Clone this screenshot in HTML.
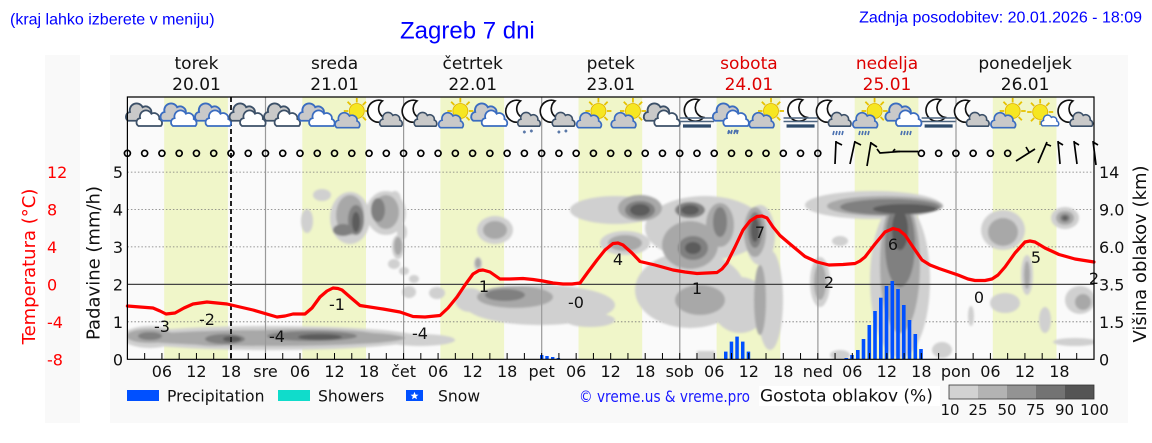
<!DOCTYPE html>
<html><head><meta charset="utf-8"><style>
html,body{margin:0;padding:0;background:#fff;width:1152px;height:443px;overflow:hidden}
svg{display:block}
.t{font-family:"DejaVu Sans",sans-serif}
.h{font-family:"Liberation Sans",Arial,sans-serif}
</style></head><body>
<svg width="1152" height="443" xmlns="http://www.w3.org/2000/svg" xmlns:xlink="http://www.w3.org/1999/xlink">
<defs>
<clipPath id="pc"><rect x="127.4" y="160" width="966.6" height="199.3"/></clipPath>
<filter id="bl" x="-10%" y="-10%" width="120%" height="120%"><feGaussianBlur stdDeviation="1.0"/></filter>
<path id="cl" d="M-13,8 A5,5 0 0 1 -11,-1 A7,7 0 0 1 2,-6 A6,6 0 0 1 11,0 A5,5 0 0 1 13,8 Z"/>
<g id="sun"><g stroke="#e6c200" stroke-width="1.8"><line x1="8.5" y1="0" x2="13" y2="0"/><line x1="6" y1="6" x2="9.2" y2="9.2"/><line x1="0" y1="8.5" x2="0" y2="13"/><line x1="-6" y1="6" x2="-9.2" y2="9.2"/><line x1="-8.5" y1="0" x2="-13" y2="0"/><line x1="-6" y1="-6" x2="-9.2" y2="-9.2"/><line x1="0" y1="-8.5" x2="0" y2="-13"/><line x1="6" y1="-6" x2="9.2" y2="-9.2"/></g><circle r="7.5" fill="#f6e622" stroke="#e0b000" stroke-width="0.8"/></g>
<path id="moon" d="M2,-11 A10,10 0 1 0 6,5 A9,9 0 0 1 2,-11 Z" fill="#fff" stroke="#111" stroke-width="1.5"/>
<g id="cg"><use xlink:href="#cl" transform="translate(-4,-2) scale(0.97)" fill="#c9c9c9" stroke="#3c5068" stroke-width="1.9"/><use xlink:href="#cl" transform="translate(5,4) scale(0.87)" fill="#fff" stroke="#3c5068" stroke-width="2"/></g>
<g id="cb"><use xlink:href="#cl" transform="translate(-4,-2) scale(0.97)" fill="#c9c9c9" stroke="#3a6cc0" stroke-width="1.9"/><use xlink:href="#cl" transform="translate(5,4) scale(0.87)" fill="#fff" stroke="#3a6cc0" stroke-width="2"/></g>
<g id="sc"><use xlink:href="#sun" transform="translate(5,-4)"/><use xlink:href="#cl" transform="translate(-4,6) scale(0.84)" fill="#c9c9c9" stroke="#3a6cc0" stroke-width="2"/></g>
<g id="sc2"><use xlink:href="#sun" transform="translate(-2,-3)"/><use xlink:href="#cl" transform="translate(8,6) scale(0.6)" fill="#fff" stroke="#3a6cc0" stroke-width="2.4"/></g>
<g id="mc"><use xlink:href="#moon" transform="translate(-6,-2) scale(1.1)"/><use xlink:href="#cl" transform="translate(5,5) scale(0.77)" fill="#c9c9c9" stroke="#3c5068" stroke-width="2.1"/></g>
<g id="mf"><use xlink:href="#moon" transform="translate(0,-3) scale(1.1)"/><line x1="-17" y1="3" x2="17" y2="3" stroke="#4d6580" stroke-width="1.5"/><line x1="-17" y1="6.5" x2="17" y2="6.5" stroke="#4d6580" stroke-width="1.5"/><line x1="-14" y1="11" x2="14" y2="11" stroke="#2d4a6b" stroke-width="3.2"/></g>
<g id="sn" stroke="#5a78a8" stroke-width="1"><path d="M-1.5,17 h3 M0,15.5 v3 M-1,16 l2,2 M1,16 l-2,2"/><path d="M5.5,16 h3 M7,14.5 v3 M6,15 l2,2 M8,15 l-2,2"/></g>
<g id="rn" stroke="#4a70b0" stroke-width="1.6"><path d="M-4,16 l-1,4 M-1,16 l-1,4 M2,16 l-1,4 M5,16 l-1,4"/></g>
</defs>

<!-- header -->
<text class="h" x="10" y="24.4" font-size="16" fill="#0000ff">(kraj lahko izberete v meniju)</text>
<text class="h" x="400" y="38.5" font-size="24" fill="#0000ff">Zagreb 7 dni</text>
<text class="h" x="1142" y="22.5" font-size="16" fill="#0000ff" text-anchor="end">Zadnja posodobitev: 20.01.2026 - 18:09</text>

<!-- backgrounds -->
<rect x="110" y="55" width="1018" height="368" fill="#f9f9f9"/>
<rect x="45" y="55" width="35" height="368" fill="#f9f9f9"/>
<rect x="127.4" y="97" width="966.6" height="262.3" fill="#fafafa"/>
<g fill="#f0f6c9">
<rect x="164.2" y="97" width="63.7" height="262.3"/>
<rect x="302.3" y="97" width="63.7" height="262.3"/>
<rect x="440.4" y="97" width="63.7" height="262.3"/>
<rect x="578.5" y="97" width="63.7" height="262.3"/>
<rect x="716.6" y="97" width="63.7" height="262.3"/>
<rect x="854.7" y="97" width="63.7" height="262.3"/>
<rect x="992.8" y="97" width="63.7" height="262.3"/>
</g>

<!-- day headers -->
<g class="t" font-size="17" text-anchor="middle" fill="#111">
<text x="196.5" y="69">torek</text><text x="196.5" y="90">20.01</text>
<text x="334.6" y="69">sreda</text><text x="334.6" y="90">21.01</text>
<text x="472.7" y="69">četrtek</text><text x="472.7" y="90">22.01</text>
<text x="610.8" y="69">petek</text><text x="610.8" y="90">23.01</text>
<text x="748.9" y="69" fill="#dd0000">sobota</text><text x="748.9" y="90" fill="#dd0000">24.01</text>
<text x="887.0" y="69" fill="#dd0000">nedelja</text><text x="887.0" y="90" fill="#dd0000">25.01</text>
<text x="1025.1" y="69">ponedeljek</text><text x="1025.1" y="90">26.01</text>
</g>

<!-- grid -->
<g stroke="#777" stroke-width="0.8" stroke-dasharray="1.5,2">
<line x1="127.4" y1="172.1" x2="1094" y2="172.1"/>
<line x1="127.4" y1="209.5" x2="1094" y2="209.5"/>
<line x1="127.4" y1="246.9" x2="1094" y2="246.9"/>
<line x1="127.4" y1="321.8" x2="1094" y2="321.8"/>
</g>

<!-- clouds -->
<g clip-path="url(#pc)"><g filter="url(#bl)">
<g fill="#d0d0d0">
<ellipse cx="270" cy="338" rx="150" ry="12"/><ellipse cx="420" cy="340" rx="35" ry="6"/><ellipse cx="150" cy="337" rx="28" ry="11"/>
<ellipse cx="322" cy="195" rx="9" ry="6"/><ellipse cx="307" cy="221" rx="6" ry="12"/><ellipse cx="350" cy="218" rx="20" ry="26"/><ellipse cx="386" cy="213" rx="20" ry="22"/>
<ellipse cx="398" cy="247" rx="6" ry="12"/><ellipse cx="394" cy="264" rx="6" ry="5"/><ellipse cx="404" cy="271" rx="5" ry="4"/><ellipse cx="414" cy="279" rx="5" ry="4"/>
<ellipse cx="409" cy="292" rx="7" ry="6"/><ellipse cx="437" cy="293" rx="8" ry="6"/><ellipse cx="395" cy="200" rx="6" ry="9"/><ellipse cx="402" cy="232" rx="5" ry="8"/>
<ellipse cx="495" cy="230" rx="18" ry="14"/><ellipse cx="478" cy="264" rx="4" ry="7"/>
<ellipse cx="540" cy="305" rx="75" ry="20"/><ellipse cx="590" cy="320" rx="25" ry="7"/><ellipse cx="470" cy="300" rx="15" ry="12"/>
<ellipse cx="615" cy="210" rx="45" ry="14"/><ellipse cx="625" cy="243" rx="25" ry="12"/>
<ellipse cx="690" cy="290" rx="55" ry="38"/><ellipse cx="705" cy="228" rx="60" ry="32"/><ellipse cx="740" cy="305" rx="28" ry="28"/>
<ellipse cx="770" cy="300" rx="13" ry="50"/><ellipse cx="760" cy="235" rx="15" ry="30"/>
<ellipse cx="820" cy="282" rx="10" ry="25"/><ellipse cx="840" cy="241" rx="8" ry="5"/>
<ellipse cx="873" cy="205" rx="68" ry="14"/><ellipse cx="900" cy="280" rx="30" ry="78"/>
<ellipse cx="1003" cy="230" rx="22" ry="20"/><ellipse cx="1065" cy="218" rx="14" ry="11"/><ellipse cx="1027" cy="275" rx="6" ry="20"/>
<ellipse cx="1005" cy="303" rx="15" ry="10"/><ellipse cx="1045" cy="320" rx="6" ry="13"/><ellipse cx="1075" cy="342" rx="22" ry="4"/>
<ellipse cx="1080" cy="300" rx="15" ry="14"/><ellipse cx="971" cy="316" rx="3" ry="10"/>
<rect x="697" y="351" width="18" height="9"/><ellipse cx="840" cy="355" rx="10" ry="5"/><ellipse cx="942" cy="350" rx="10" ry="8"/>
</g>
<g fill="#a8a8a8">
<ellipse cx="270" cy="338" rx="135" ry="8"/>
<ellipse cx="150" cy="336" rx="24" ry="7"/><ellipse cx="215" cy="339" rx="30" ry="7"/><ellipse cx="305" cy="336" rx="75" ry="7"/>
<ellipse cx="350" cy="215" rx="14" ry="20"/><ellipse cx="386" cy="212" rx="13" ry="17"/><ellipse cx="398" cy="246" rx="4" ry="9"/>
<ellipse cx="495" cy="230" rx="12" ry="9"/><ellipse cx="478" cy="263" rx="3" ry="5"/>
<ellipse cx="515" cy="297" rx="38" ry="11"/>
<ellipse cx="640" cy="208" rx="22" ry="13"/><ellipse cx="625" cy="243" rx="17" ry="8"/>
<ellipse cx="690" cy="245" rx="28" ry="24"/><ellipse cx="720" cy="225" rx="14" ry="22"/><ellipse cx="755" cy="232" rx="11" ry="25"/><ellipse cx="700" cy="300" rx="25" ry="15"/>
<ellipse cx="760" cy="300" rx="6" ry="35"/><ellipse cx="820" cy="282" rx="6" ry="18"/>
<ellipse cx="885" cy="206" rx="58" ry="10"/><ellipse cx="900" cy="265" rx="20" ry="68"/>
<ellipse cx="1003" cy="232" rx="15" ry="14"/><ellipse cx="1065" cy="218" rx="9" ry="7"/><ellipse cx="1027" cy="275" rx="3" ry="14"/><ellipse cx="1083" cy="302" rx="8" ry="8"/>
</g>
<g fill="#808080">
<ellipse cx="225" cy="339" rx="20" ry="5"/><ellipse cx="312" cy="336" rx="45" ry="5"/><ellipse cx="150" cy="336" rx="12" ry="4"/>
<ellipse cx="356" cy="220" rx="8" ry="15"/><ellipse cx="343" cy="230" rx="10" ry="6"/><ellipse cx="378" cy="210" rx="7" ry="12"/>
<ellipse cx="505" cy="295" rx="20" ry="6"/>
<ellipse cx="640" cy="210" rx="15" ry="9"/>
<ellipse cx="690" cy="210" rx="15" ry="8"/><ellipse cx="693" cy="248" rx="15" ry="12"/><ellipse cx="720" cy="222" rx="7" ry="15"/><ellipse cx="755" cy="230" rx="7" ry="18"/>
<ellipse cx="890" cy="207" rx="50" ry="8"/><ellipse cx="900" cy="245" rx="15" ry="42"/>
<ellipse cx="1065" cy="218" rx="5" ry="4"/>
</g>
<g fill="#5c5c5c">
<ellipse cx="232" cy="339" rx="9" ry="3"/><ellipse cx="320" cy="337" rx="22" ry="3"/>
<ellipse cx="356" cy="222" rx="4" ry="10"/><ellipse cx="640" cy="210" rx="10" ry="6"/>
<ellipse cx="693" cy="248" rx="8" ry="6"/><ellipse cx="690" cy="210" rx="9" ry="5"/><ellipse cx="755" cy="230" rx="4" ry="12"/>
<ellipse cx="905" cy="209" rx="32" ry="5"/><ellipse cx="900" cy="230" rx="8" ry="20"/>
<ellipse cx="1065" cy="218" rx="2.5" ry="2"/>
</g>
</g></g>

<!-- day separators -->
<g stroke="#999" stroke-width="1.2">
<line x1="265.5" y1="97" x2="265.5" y2="359"/><line x1="403.6" y1="97" x2="403.6" y2="359"/>
<line x1="541.7" y1="97" x2="541.7" y2="359"/><line x1="679.8" y1="97" x2="679.8" y2="359"/>
<line x1="817.9" y1="97" x2="817.9" y2="359"/><line x1="956.0" y1="97" x2="956.0" y2="359"/>
</g>
<line x1="231" y1="97" x2="231" y2="359" stroke="#222" stroke-width="2" stroke-dasharray="5,3"/>
<line x1="127.4" y1="284.4" x2="1094" y2="284.4" stroke="#444" stroke-width="1.2"/>

<!-- precipitation bars -->
<g fill="#0050ff">
<rect x="540" y="355" width="3.4" height="4.3"/><rect x="545.3" y="356" width="3.4" height="3.3"/><rect x="551" y="357" width="3.4" height="2.3"/><rect x="556.7" y="358" width="3.4" height="1.3"/>
<rect x="724" y="351.6" width="3.5" height="7.7"/><rect x="729.7" y="341.6" width="3.5" height="17.7"/><rect x="735.3" y="336.6" width="3.5" height="22.7"/><rect x="741" y="341.6" width="3.5" height="17.7"/><rect x="746.7" y="351.6" width="3.5" height="7.7"/>
<rect x="844.5" y="358" width="3.6" height="1.3"/><rect x="850.2" y="355" width="3.6" height="4.3"/><rect x="856" y="350" width="3.6" height="9.3"/><rect x="861.7" y="339" width="3.6" height="20.3"/>
<rect x="867.5" y="325" width="3.6" height="34.3"/><rect x="873.2" y="311" width="3.6" height="48.3"/><rect x="879" y="297.7" width="3.6" height="61.6"/><rect x="884.7" y="286" width="3.6" height="73.3"/>
<rect x="890.5" y="281" width="3.6" height="78.3"/><rect x="896.2" y="289" width="3.6" height="70.3"/><rect x="902" y="305" width="3.6" height="54.3"/><rect x="907.7" y="320" width="3.6" height="39.3"/>
<rect x="913.5" y="334" width="3.6" height="25.3"/><rect x="919.2" y="349" width="3.6" height="10.3"/>
</g>

<!-- temperature -->
<path fill="none" stroke="#ff0000" stroke-width="3.2" stroke-linejoin="round" stroke-linecap="round" d="M127.4,306 L140,307 L153,308 L160,311 L166,314 L175,313 L184,308 L193,304 L207,302 L227,304 L253,310 L277,317 L285,316 L293,314 L305,314 L312,308 L320,297 L327,291 L333,288 L338,288.5 L342,290 L350,297 L360,305.5 L383,309 L400,312 L413,316.5 L425,317 L440,315.5 L448,308 L457,297 L465,285 L473,274 L479,270.5 L483,270 L490,272 L500,279 L510,279 L523,278.5 L533,279.5 L543,281 L553,283 L563,284 L572,284 L580,283 L588,272 L597,260 L605,250 L613,243.5 L618,243 L623,245 L632,253 L640,261.5 L655,265 L673,270 L685,272 L697,273.5 L707,273 L717,272.5 L722,269 L727,263 L735,247 L743,230 L750,221 L757,216.5 L762,216 L767,218 L773,227 L780,235.5 L790,244 L805,256.5 L817,262 L829,265 L843,264.5 L855,263.5 L860,261 L865,257 L875,244 L885,232 L893,228.5 L899,230 L905,235 L913,247 L922,260 L930,265 L939,268.5 L958,275 L968,279 L975,280.5 L985,280.5 L992,279 L998,275 L1005,267 L1015,253 L1025,242 L1030,241 L1035,242 L1045,248 L1059,254.5 L1075,259 L1094,262"/>

<g class="t" font-size="16" text-anchor="middle" fill="#111">
<text x="162" y="332">-3</text><text x="207" y="325">-2</text><text x="277" y="342">-4</text><text x="337" y="310">-1</text>
<text x="420" y="339">-4</text><text x="484" y="292">1</text><text x="576" y="308">-0</text><text x="618" y="265">4</text>
<text x="697" y="294">1</text><text x="760" y="238">7</text><text x="829" y="288">2</text><text x="893" y="250">6</text>
<text x="979" y="303">0</text><text x="1036" y="263">5</text><text x="1094" y="284">2</text>
</g>

<!-- icons -->
<g>
<use xlink:href="#cg" x="144.66" y="115"/>
<use xlink:href="#cb" x="179.18" y="115"/>
<use xlink:href="#cb" x="213.7" y="115"/>
<use xlink:href="#cg" x="248.22" y="115"/>
<use xlink:href="#cg" x="282.74" y="115"/>
<use xlink:href="#cb" x="317.26" y="115"/>
<use xlink:href="#sc" x="351.78" y="115"/>
<use xlink:href="#mc" x="386.3" y="115"/>
<use xlink:href="#mc" x="420.82" y="115"/>
<use xlink:href="#sc" x="455.34" y="115"/>
<use xlink:href="#cb" x="489.86" y="115"/>
<use xlink:href="#mc" x="524.38" y="115"/><use xlink:href="#sn" x="524.38" y="115"/>
<use xlink:href="#mc" x="558.9" y="115"/><use xlink:href="#sn" x="558.9" y="115"/>
<use xlink:href="#sc" x="593.42" y="115"/>
<use xlink:href="#sc" x="627.94" y="115"/>
<use xlink:href="#cg" x="662.46" y="115"/>
<use xlink:href="#mf" x="696.98" y="115"/>
<use xlink:href="#cb" x="731.5" y="115"/><use xlink:href="#sn" x="729" y="115"/><use xlink:href="#rn" x="733" y="114"/>
<use xlink:href="#sc" x="766.02" y="115"/>
<use xlink:href="#mf" x="800.54" y="115"/>
<use xlink:href="#mc" x="835.06" y="115"/><use xlink:href="#rn" x="838" y="115"/>
<use xlink:href="#sc" x="869.58" y="115"/><use xlink:href="#rn" x="864" y="115"/>
<use xlink:href="#cb" x="904.1" y="115"/><use xlink:href="#rn" x="906" y="115"/>
<use xlink:href="#mf" x="938.62" y="115"/>
<use xlink:href="#mc" x="973.14" y="115"/>
<use xlink:href="#sc" x="1007.66" y="115"/>
<use xlink:href="#sc2" x="1042.18" y="115"/>
<use xlink:href="#mc" x="1076.7" y="115"/>
</g>

<!-- wind -->
<g fill="none" stroke="#000" stroke-width="1.7">
<circle cx="127.4" cy="153.3" r="3"/><circle cx="144.66" cy="153.3" r="3"/><circle cx="161.92" cy="153.3" r="3"/><circle cx="179.18" cy="153.3" r="3"/><circle cx="196.44" cy="153.3" r="3"/><circle cx="213.7" cy="153.3" r="3"/><circle cx="230.96" cy="153.3" r="3"/><circle cx="248.22" cy="153.3" r="3"/>
<circle cx="265.48" cy="153.3" r="3"/><circle cx="282.74" cy="153.3" r="3"/><circle cx="300" cy="153.3" r="3"/><circle cx="317.26" cy="153.3" r="3"/><circle cx="334.52" cy="153.3" r="3"/><circle cx="351.78" cy="153.3" r="3"/><circle cx="369.04" cy="153.3" r="3"/><circle cx="386.3" cy="153.3" r="3"/>
<circle cx="403.56" cy="153.3" r="3"/><circle cx="420.82" cy="153.3" r="3"/><circle cx="438.08" cy="153.3" r="3"/><circle cx="455.34" cy="153.3" r="3"/><circle cx="472.6" cy="153.3" r="3"/><circle cx="489.86" cy="153.3" r="3"/><circle cx="507.12" cy="153.3" r="3"/><circle cx="524.38" cy="153.3" r="3"/>
<circle cx="541.64" cy="153.3" r="3"/><circle cx="558.9" cy="153.3" r="3"/><circle cx="576.16" cy="153.3" r="3"/><circle cx="593.42" cy="153.3" r="3"/><circle cx="610.68" cy="153.3" r="3"/><circle cx="627.94" cy="153.3" r="3"/><circle cx="645.2" cy="153.3" r="3"/><circle cx="662.46" cy="153.3" r="3"/>
<circle cx="679.72" cy="153.3" r="3"/><circle cx="696.98" cy="153.3" r="3"/><circle cx="714.24" cy="153.3" r="3"/><circle cx="731.5" cy="153.3" r="3"/><circle cx="748.76" cy="153.3" r="3"/><circle cx="766.02" cy="153.3" r="3"/><circle cx="783.28" cy="153.3" r="3"/><circle cx="800.54" cy="153.3" r="3"/>
<circle cx="817.8" cy="153.3" r="3"/>
<circle cx="921.36" cy="153.3" r="3"/><circle cx="938.62" cy="153.3" r="3"/><circle cx="955.88" cy="153.3" r="3"/><circle cx="973.14" cy="153.3" r="3"/><circle cx="990.4" cy="153.3" r="3"/><circle cx="1007.66" cy="153.3" r="3"/>
<path d="M835,164 L836,141 M836,142 L842,145"/>
<path d="M850,164 L855,141 M855,142 L861,145"/>
<path d="M867,166 L871,142 M871,143 L877,147"/>
<path d="M877,149 L880,153 L900,151.5 M893,151.5 L895,149"/>
<path d="M895,151.5 L918,151.5"/>
<path d="M1016,161 L1035,149 M1029,152 L1026,147"/>
<path d="M1038,163 L1047,142 M1046,144 L1051,146"/>
<path d="M1060,164 L1058,141 M1058,142 L1063,145"/>
<path d="M1077,164 L1074,141 M1074,142 L1079,145"/>
<path d="M1096,165 L1093,141 M1093,142 L1098,145"/>
</g>

<!-- frame -->
<g stroke="#000" stroke-width="1.2" fill="none">
<path d="M127.4,97 H1094 V359.3 H127.4 Z"/>
<path d="M144.66 359V353M161.92 359V353M179.18 359V353M196.44 359V353M213.7 359V353M230.96 359V353M248.22 359V353M265.48 359V353M282.74 359V353M300 359V353M317.26 359V353M334.52 359V353M351.78 359V353M369.04 359V353M386.3 359V353M403.56 359V353M420.82 359V353M438.08 359V353M455.34 359V353M472.6 359V353M489.86 359V353M507.12 359V353M524.38 359V353M541.64 359V353M558.9 359V353M576.16 359V353M593.42 359V353M610.68 359V353M627.94 359V353M645.2 359V353M662.46 359V353M679.72 359V353M696.98 359V353M714.24 359V353M731.5 359V353M748.76 359V353M766.02 359V353M783.28 359V353M800.54 359V353M817.8 359V353M835.06 359V353M852.32 359V353M869.58 359V353M886.84 359V353M904.1 359V353M921.36 359V353M938.62 359V353M955.88 359V353M973.14 359V353M990.4 359V353M1007.66 359V353M1024.92 359V353M1042.18 359V353M1059.44 359V353M1076.7 359V353" stroke-width="1"/>
</g>

<!-- x tick labels -->
<g class="t" font-size="16" text-anchor="middle" fill="#111">
<text x="161.92" y="377">06</text><text x="196.44" y="377">12</text><text x="230.96" y="377">18</text><text x="265.48" y="377">sre</text>
<text x="300" y="377">06</text><text x="334.52" y="377">12</text><text x="369.04" y="377">18</text><text x="403.56" y="377">čet</text>
<text x="438.08" y="377">06</text><text x="472.6" y="377">12</text><text x="507.12" y="377">18</text><text x="541.64" y="377">pet</text>
<text x="576.16" y="377">06</text><text x="610.68" y="377">12</text><text x="645.2" y="377">18</text><text x="679.72" y="377">sob</text>
<text x="714.24" y="377">06</text><text x="748.76" y="377">12</text><text x="783.28" y="377">18</text><text x="817.8" y="377">ned</text>
<text x="852.32" y="377">06</text><text x="886.84" y="377">12</text><text x="921.36" y="377">18</text><text x="955.88" y="377">pon</text>
<text x="990.4" y="377">06</text><text x="1024.92" y="377">12</text><text x="1059.44" y="377">18</text>
</g>

<!-- y labels -->
<g class="t" font-size="16" text-anchor="end" fill="#111">
<text x="123" y="178">5</text><text x="123" y="215.5">4</text><text x="123" y="253">3</text><text x="123" y="290.4">2</text><text x="123" y="327.8">1</text><text x="123" y="365.3">0</text>
</g>
<g class="t" font-size="16" fill="#ff0000">
<text x="47" y="178">12</text><text x="47" y="215.5">8</text><text x="47" y="253">4</text><text x="47" y="290.4">0</text><text x="47" y="327.8">-4</text><text x="47" y="365.3">-8</text>
</g>
<g class="t" font-size="16" fill="#111">
<text x="1099" y="178">14</text><text x="1099" y="215.5">9.0</text><text x="1099" y="253">6.0</text><text x="1099" y="290.4">3.5</text><text x="1099" y="327.8">1.5</text><text x="1099" y="365.3">0</text>
</g>
<text class="t" transform="translate(35,266.5) rotate(-90)" font-size="18" text-anchor="middle" fill="#ff0000">Temperatura (°C)</text>
<text class="t" transform="translate(99.5,263) rotate(-90)" font-size="18" text-anchor="middle" fill="#111">Padavine (mm/h)</text>
<text class="t" transform="translate(1146,254) rotate(-90)" font-size="18" text-anchor="middle" fill="#111">Višina oblakov (km)</text>

<!-- legend -->
<rect x="127" y="390" width="32" height="11" fill="#0050ff"/>
<rect x="278" y="390" width="32" height="11" fill="#10dccb"/>
<rect x="406" y="390" width="17" height="11" fill="#0050ff"/>
<path d="M414.5,391.8 L415.6,394.6 L418.5,394.7 L416.2,396.5 L417,399.3 L414.5,397.7 L412,399.3 L412.8,396.5 L410.5,394.7 L413.4,394.6 Z" fill="#fff"/>
<g class="t" font-size="15.6" fill="#111">
<text x="167" y="401.7">Precipitation</text>
<text x="318" y="401.7">Showers</text>
<text x="438" y="401.7">Snow</text>
</g>
<text class="t" x="579" y="402" font-size="16" fill="#1a1aff" textLength="171" lengthAdjust="spacingAndGlyphs">© vreme.us &amp; vreme.pro</text>
<rect x="759" y="386" width="181" height="20" fill="#fff"/>
<text class="t" x="760" y="401.5" font-size="17" fill="#111">Gostota oblakov (%)</text>
<rect x="949" y="385" width="29" height="14" fill="#d2d2d2"/>
<rect x="978" y="385" width="29" height="14" fill="#b3b3b3"/>
<rect x="1007" y="385" width="29" height="14" fill="#939393"/>
<rect x="1036" y="385" width="29" height="14" fill="#737373"/>
<rect x="1065" y="385" width="29" height="14" fill="#555555"/>
<rect x="949" y="385" width="145" height="14" fill="none" stroke="#333" stroke-width="0.8"/>
<g class="t" font-size="15" text-anchor="middle" fill="#111">
<text x="950" y="415">10</text><text x="978" y="415">25</text><text x="1007" y="415">50</text><text x="1035.5" y="415">75</text><text x="1064.5" y="415">90</text><text x="1094.5" y="415">100</text>
</g>
</svg>
</body></html>
